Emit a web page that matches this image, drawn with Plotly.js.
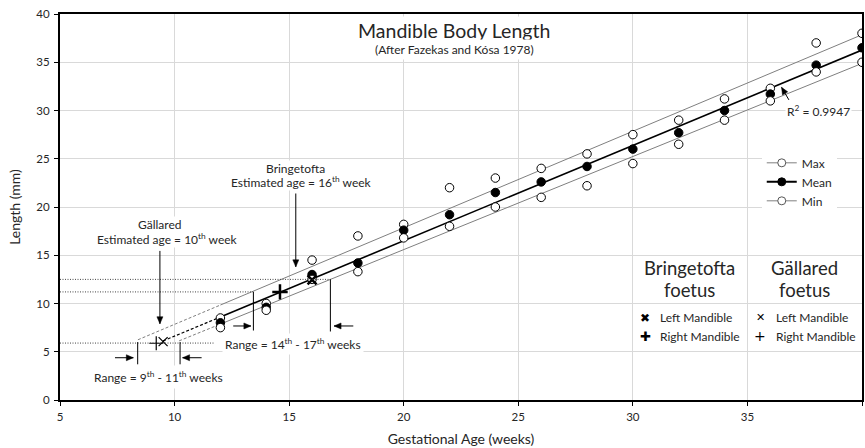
<!DOCTYPE html>
<html><head><meta charset="utf-8">
<script src="https://cdn.plot.ly/plotly-3.0.1.min.js"></script>
<style>html,body{margin:0;padding:0;background:#fff}</style>
</head><body><div id="chart" style="width:865px;height:448px"></div>
<script>
// ---- data ----
const ages = [12,14,16,18,20,22,24,26,28,30,32,34,36,38,40];
const maxLen = [8.5,10,14.5,17,18.2,22,23,24,25.5,27.5,29,31.2,32.3,37,38];
const meanLen = [8.0,9.6,13.0,14.2,17.6,19.2,21.5,22.6,24.2,26.0,27.7,30.0,31.7,34.7,36.5];
const minLen = [7.5,9.3,12.5,13.3,16.8,18.0,20.0,21.0,22.2,24.5,26.5,29.0,31.0,34.0,35.0];
const seriesNames = ['Max','Mean','Min'];
const fitStartAge = [8.4, 9.5, 10.2];        // backward extension of trendlines
const bringetoftaX = [16.0, 14.6];           // left, right mandible
const bringetoftaY = [12.45, 11.2];
const gallaredX = [9.5, 9.2];
const gallaredY = [6.05, 5.88];
const bringLevels = [12.5, 11.2];
const gallLevel = 5.9;
const bringRange = [13.44, 16.8];
const gallRange = [8.39, 10.24];
const rSquared = '0.9947';

function linfit(xs, ys){
  const n = xs.length;
  const mx = xs.reduce((a,b)=>a+b,0)/n, my = ys.reduce((a,b)=>a+b,0)/n;
  let sxy=0, sxx=0;
  for(let i=0;i<n;i++){ sxy+=(xs[i]-mx)*(ys[i]-my); sxx+=(xs[i]-mx)*(xs[i]-mx); }
  const b = sxy/sxx; return {b, a: my - b*mx};
}
const FONT = 'Lato, "Open Sans", sans-serif';
const TXT = '#262626';
const series = [maxLen, meanLen, minLen];
const lineColors = ['#7f7f7f','#000000','#7f7f7f'];
const lineWidths = [1, 1.6, 1];
const traces = [];
series.forEach((ys,i)=>{
  const f = linfit(ages, ys);
  const x0 = fitStartAge[i], x1 = ages[0], x2 = ages[ages.length-1];
  traces.push({x:[x0,x1], y:[f.a+f.b*x0, f.a+f.b*x1], mode:'lines', showlegend:false, hoverinfo:'skip',
    line:{color:lineColors[i], width: i===1?1.2:1, dash:'3px,2px'}});
  traces.push({x:[x1,x2], y:[f.a+f.b*x1, f.a+f.b*x2], mode:'lines', showlegend:false, hoverinfo:'skip',
    line:{color:lineColors[i], width:lineWidths[i]}});
});
series.forEach((ys,i)=>{
  traces.push({x:ages, y:ys, mode:'markers', showlegend:false,
    marker:{symbol:'circle', size:8.5, color: i===1?'#000':'#fff', line:{color:'#000', width:1}}});
});
// legend-only entries
series.forEach((ys,i)=>{
  traces.push({x:[null], y:[null], mode:'lines+markers', name:seriesNames[i],
    line:{color: i===1?'#000':'#7f7f7f', width: i===1?2:1},
    marker:{symbol:'circle', size:8, color: i===1?'#000':'#fff', line:{color: i===1?'#000':'#555', width:1}}});
});
// foetus specimens
traces.push({x:[bringetoftaX[0]], y:[bringetoftaY[0]], mode:'markers', showlegend:false,
  marker:{symbol:'x-thin', size:9, line:{color:'#000', width:2.5}}});
traces.push({x:[bringetoftaX[1]], y:[bringetoftaY[1]], mode:'markers', showlegend:false,
  marker:{symbol:'cross-thin', size:11, line:{color:'#000', width:2.5}}});
traces.push({x:[gallaredX[0]], y:[gallaredY[0]], mode:'markers', showlegend:false,
  marker:{symbol:'x-thin', size:9, line:{color:'#000', width:1.2}}});
traces.push({x:[gallaredX[1]], y:[gallaredY[1]], mode:'markers', showlegend:false,
  marker:{symbol:'cross-thin', size:10, line:{color:'#000', width:1.2}}});

function txt(x,y,text,size,extra){
  return Object.assign({x, y, xref:'x', yref:'y', text, showarrow:false,
    font:{family:FONT, size:size, color:TXT}}, extra||{});
}
// arrows drawn as shapes (line + filled head), sized in pixels via the axis scale
const PX = 802/35, PY = 386/40;
const shapes = [];
function arrow(xh,yh,xt,yt){
  shapes.push({type:'line', xref:'x', yref:'y', x0:xt, y0:yt, x1:xh, y1:yh, line:{color:'#000', width:1}});
  const dx = (xh-xt)*PX, dy = (yh-yt)*PY, L = Math.hypot(dx,dy), ux = dx/L, uy = dy/L;
  const len = 7, half = 3;
  const bx = -ux*len, by = -uy*len, px = -uy*half, py = ux*half;
  const p = (ox,oy)=> (xh + ox/PX) + ',' + (yh + oy/PY);
  shapes.push({type:'path', xref:'x', yref:'y', path:'M'+p(0,0)+' L'+p(bx+px,by+py)+' L'+p(bx-px,by-py)+' Z',
    fillcolor:'#000', line:{color:'#000', width:0.5}});
}
const W = {bgcolor:'#ffffff', borderpad:1};
const annotations = [
  txt(22.2, 38.3, 'Mandible Body Length', 19.5, {bgcolor:'#fff', borderpad:2}),
  txt(22.2, 36.3, '(After Fazekas and Kósa 1978)', 12, {bgcolor:'#fff', borderpad:2}),
  txt(38.12, 29.95, 'R<sup>2</sup> = ' + rSquared, 12, W),
  // Gällared
  txt(9.68, 16.68, 'Estimated age = 10<sup>th</sup> week', 12, {bgcolor:'#fff', borderpad:0}),
  txt(9.35, 18.18, 'Gällared', 12, {bgcolor:'#fff', borderpad:0}),
  // Bringetofta
  txt(15.52, 22.55, 'Estimated age = 16<sup>th</sup> week', 12, {bgcolor:'#fff', borderpad:0}),
  txt(15.29, 24.0, 'Bringetofta', 12, {bgcolor:'#fff', borderpad:0}),
  // ranges
  txt(9.32, 2.4, 'Range = 9<sup>th</sup> - 11<sup>th</sup> weeks', 12, {bgcolor:'#fff', borderpad:3}),
  txt(15.18, 5.77, 'Range = 14<sup>th</sup> - 17<sup>th</sup> weeks', 12, {bgcolor:'#fff', borderpad:2}),
  // specimen key
  txt(32.45, 13.73, 'Bringetofta', 18.5),
  txt(32.45, 11.4, 'foetus', 18.5),
  txt(37.5, 13.73, 'Gällared', 18.5),
  txt(37.5, 11.4, 'foetus', 18.5),
  txt(30.53, 8.53, '✖', 12, {font:{family:'DejaVu Sans', size:12, color:'#000'}}),
  txt(30.53, 6.63, '✚', 12, {font:{family:'DejaVu Sans', size:13, color:'#000'}}),
  txt(31.1, 8.53, 'Left Mandible', 12, {xanchor:'left'}),
  txt(31.1, 6.63, 'Right Mandible', 12, {xanchor:'left'}),
  txt(35.55, 8.53, '✕', 12, {font:{family:'DejaVu Sans', size:11, color:'#000'}}),
  txt(35.55, 6.63, '+', 12, {font:{family:'DejaVu Sans', size:14, color:'#000'}}),
  txt(36.16, 8.53, 'Left Mandible', 12, {xanchor:'left'}),
  txt(36.16, 6.63, 'Right Mandible', 12, {xanchor:'left'})
];
const dotted = {color:'#444', width:1, dash:'1px,1.5px'};
const solid = {color:'#000', width:1};
shapes.push(
  {type:'line', xref:'x', yref:'y', x0:5, x1:bringRange[1], y0:bringLevels[0], y1:bringLevels[0], line:dotted},
  {type:'line', xref:'x', yref:'y', x0:5, x1:bringRange[0], y0:bringLevels[1], y1:bringLevels[1], line:dotted},
  {type:'line', xref:'x', yref:'y', x0:5, x1:11.7, y0:gallLevel, y1:gallLevel, line:dotted},
  {type:'line', xref:'x', yref:'y', x0:bringRange[0], x1:bringRange[0], y0:bringLevels[1], y1:7.2, line:solid},
  {type:'line', xref:'x', yref:'y', x0:bringRange[1], x1:bringRange[1], y0:bringLevels[0], y1:7.1, line:solid},
  {type:'line', xref:'x', yref:'y', x0:gallRange[0], x1:gallRange[0], y0:6.0, y1:3.7, line:solid},
  {type:'line', xref:'x', yref:'y', x0:gallRange[1], x1:gallRange[1], y0:6.0, y1:3.7, line:solid}
);
arrow(36.49, 32.4, 36.81, 31.1);
arrow(9.36, 7.9, 9.36, 15.45);
arrow(15.29, 13.8, 15.29, 21.4);
arrow(8.2, 4.38, 7.4, 4.38);
arrow(10.35, 4.38, 11.18, 4.38);
arrow(13.33, 7.67, 12.56, 7.67);
arrow(16.96, 7.67, 17.8, 7.67);

const axisCommon = {showline:true, linecolor:'#000', linewidth:2, mirror:true, ticks:'outside', ticklen:4,
  tickcolor:'#000', tickwidth:1, gridcolor:'#d9d9d9', gridwidth:1, zeroline:false, dtick:5,
  tickfont:{family:FONT, size:11.5, color:TXT}};
const layout = {
  width:865, height:448, margin:{l:60, r:3, t:14, b:48},
  paper_bgcolor:'#fff', plot_bgcolor:'#fff', font:{family:FONT, color:TXT},
  xaxis:Object.assign({}, axisCommon, {range:[5,40], ticklabelstandoff:1,
    title:{text:'Gestational Age (weeks)', font:{family:FONT, size:14, color:TXT}, standoff:12}}),
  yaxis:Object.assign({}, axisCommon, {range:[0,40], ticklabelstandoff:2,
    title:{text:'Length (mm)', font:{family:FONT, size:14, color:TXT}, standoff:12}}),
  legend:{x:0.875, y:0.652, xanchor:'left', yanchor:'top', bgcolor:'#fff', borderwidth:0,
    font:{family:FONT, size:12, color:TXT}, tracegroupgap:0},
  annotations, shapes, showlegend:true
};
Plotly.newPlot('chart', traces, layout, {displayModeBar:false, staticPlot:true});
</script></body></html>
